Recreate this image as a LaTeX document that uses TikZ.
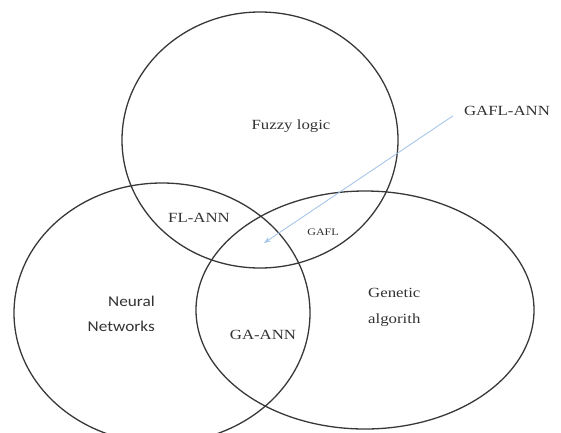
\documentclass[tikz,border=0pt]{standalone}
\usepackage{fontspec}
\setmainfont{Liberation Serif}
\newfontfamily\widefont[FakeStretch=1.2]{Liberation Serif}
\newfontfamily\calibrifont[FakeStretch=1.15]{Carlito}
\usetikzlibrary{arrows.meta}
\definecolor{pointerblue}{RGB}{165,198,232}
\definecolor{tipblue}{RGB}{95,145,205}

\begin{document}
\begin{tikzpicture}[x=1pt, y=-1pt, font=\widefont\fontsize{14}{26}\selectfont,
  set/.style={draw=black!78, line width=1.3pt},
  lbl/.style={inner sep=0pt, text=black!80},
  pointer/.style={-{Stealth[length=2.4mm, width=1.8mm, fill=tipblue]}, pointerblue, line width=0.9pt}]
\useasboundingbox (0,0) rectangle (561,432);
% the three sets
\draw[set] (260,140) ellipse [x radius=138pt, y radius=128pt];
\draw[set] (162,313) ellipse [x radius=148pt, y radius=130pt];
\draw[set] (365,310) ellipse [x radius=169pt, y radius=119pt];
% set names
\node[lbl] (fuzzy) at (291,126) {Fuzzy logic};
\node[lbl, align=right, anchor=east, font=\calibrifont\fontsize{15}{25}\selectfont] (neural) at (155,314) {Neural\\Networks};
\node[lbl, align=left, anchor=west] (genetic) at (368,307) {Genetic\\algorith};
% overlaps
\node[lbl] (flann) at (199,218) {FL-ANN};
\node[lbl, font=\widefont\fontsize{10}{12}\selectfont] (gafl) at (323,232) {GAFL};
\node[lbl] (gaann) at (263,335) {GA-ANN};
\node[lbl] (gaflann) at (507,111) {GAFL-ANN};
\coordinate (centre) at (264,243);
\draw[pointer] ([shift={(-11,0)}]gaflann.south west) -- (centre);
\end{tikzpicture}
\end{document}
